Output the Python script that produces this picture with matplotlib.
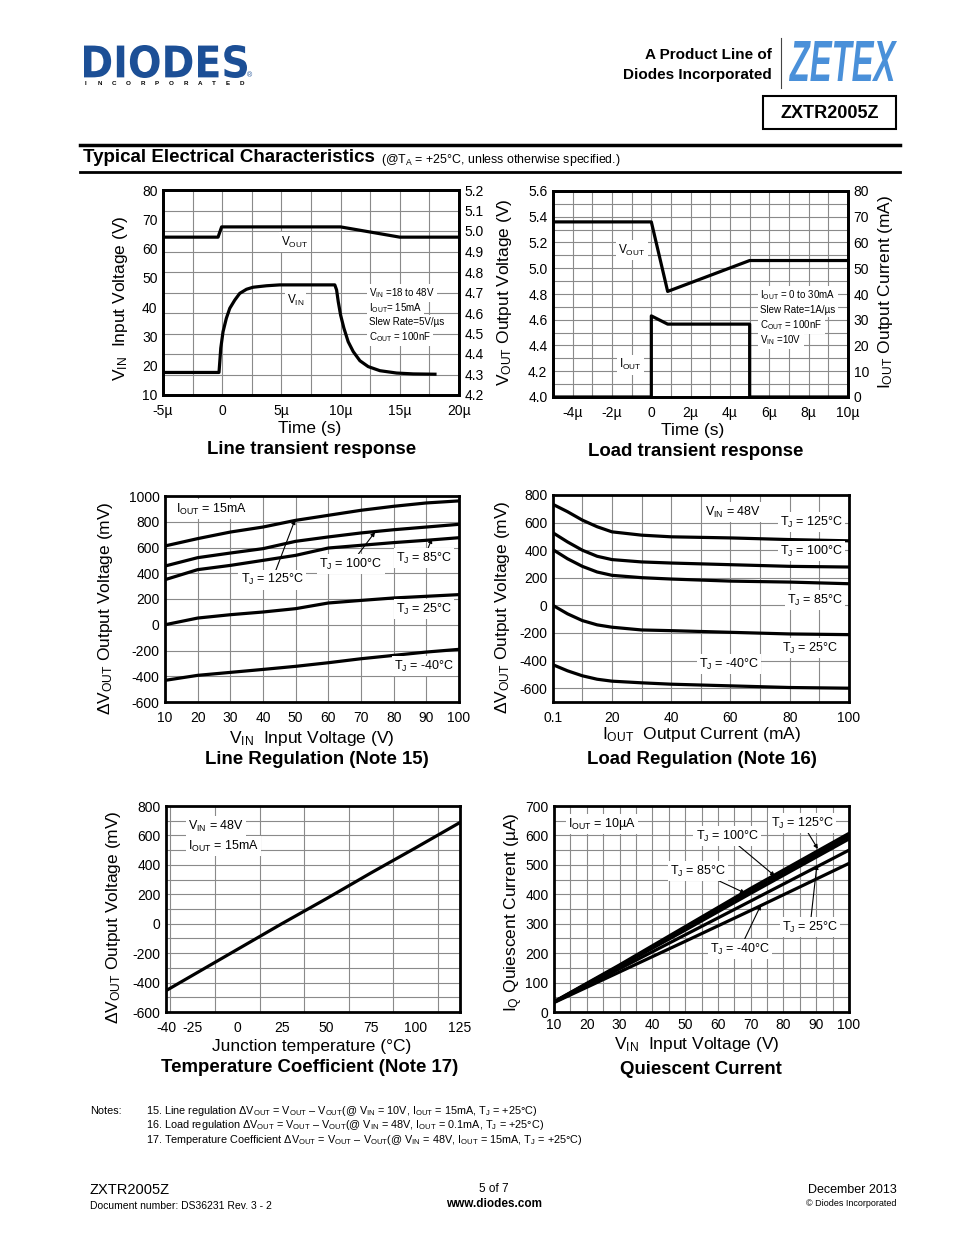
import numpy as np
import matplotlib
matplotlib.use('Agg')
import matplotlib.pyplot as plt
from matplotlib.textpath import TextPath
from matplotlib.patches import PathPatch, Rectangle
from matplotlib.font_manager import FontProperties
from matplotlib.transforms import Affine2D

plt.rcParams['font.family'] = ['Liberation Sans', 'DejaVu Sans']
plt.rcParams['mathtext.fontset'] = 'custom'
plt.rcParams['mathtext.rm'] = 'Liberation Sans'
plt.rcParams['mathtext.it'] = 'Liberation Sans'
plt.rcParams['mathtext.bf'] = 'Liberation Sans:bold'
plt.rcParams['axes.unicode_minus'] = False

NARROW = ['Liberation Sans Narrow', 'Liberation Sans']

# ---- data ----
# line transient (time in us)
lt_t_vin = [-5, -0.27, -0.12, 0.07, 0.35, 0.64, 1.06, 1.48, 2.05, 2.61, 3.74, 4.86, 9.51,
            9.66, 9.80, 10.0, 10.28, 10.64, 11.07, 11.63, 12.33, 13.32, 14.73, 16.14, 17.97]
lt_vin = [17.7, 17.7, 26.0, 31.6, 36.2, 39.6, 42.4, 44.7, 46.1, 46.8, 47.3, 47.6, 47.6,
          45.9, 41.9, 37.3, 32.8, 28.2, 24.8, 21.7, 19.7, 18.3, 17.5, 17.2, 17.1]
lt_t_vout = [-5, -0.35, -0.05, 10.0, 15.0, 20]
lt_vout = [4.97, 4.97, 5.02, 5.02, 4.97, 4.97]

# load transient (time in us)
ld_t_vout = [-5, 0, 0.83, 5.0, 10]
ld_vout = [5.36, 5.36, 4.82, 5.06, 5.06]
ld_t_iout = [-5, 0, 0, 0.83, 5.0, 5.0, 10]
ld_iout = [0, 0, 31.5, 28.3, 28.3, 0, 0]

# line regulation (mV vs VIN)
lr_vin = [10, 20, 30, 40, 50, 60, 70, 80, 90, 100]
lr_125 = [612, 669, 720, 759, 811, 850, 889, 920, 946, 962]
lr_100 = [456, 521, 557, 591, 648, 682, 713, 738, 759, 780]
lr_85 = [350, 428, 461, 500, 539, 596, 617, 638, 656, 676]
lr_25 = [0, 52, 78, 99, 125, 169, 189, 208, 221, 234]
lr_m40 = [-432, -393, -370, -347, -323, -295, -264, -238, -212, -191]

# load regulation (mV vs IOUT mA)
lg_iout = [0.1, 5, 10, 15, 20, 30, 40, 60, 80, 100]
lg_125 = [732, 679, 618, 570, 533, 509, 497, 489, 477, 468]
lg_100 = [526, 460, 400, 356, 332, 315, 307, 295, 283, 278]
lg_85 = [404, 338, 283, 242, 218, 201, 191, 176, 169, 157]
lg_25 = [0, -61, -110, -141, -158, -178, -183, -195, -207, -212]
lg_m40 = [-430, -474, -510, -535, -549, -561, -571, -583, -595, -600]

# temperature coefficient
tc_tj = [-40, 0, 25, 50, 75, 100, 125]
tc_dv = [-455, -175, 0, 170, 345, 515, 688]

# quiescent current (uA vs VIN)
iq_vin = [10, 30, 50, 70, 100]
iq_125 = [35, 160, 290, 420, 607]
iq_100 = [34, 157, 283, 410, 598]
iq_85 = [34, 155, 278, 403, 588]
iq_25 = [33, 147, 262, 377, 550]
iq_m40 = [32, 136, 240, 345, 505]

W, H = 954, 1235
fig = plt.figure(figsize=(9.54, 12.35), dpi=100)
page = fig.add_axes([0, 0, 1, 1])
page.set_xlim(0, W)
page.set_ylim(H, 0)
page.axis('off')


def box(l, t, r, b):
    return fig.add_axes([l / W, 1 - b / H, (r - l) / W, (b - t) / H])


def sub(a, s):
    return a + r'$_{\rm ' + s + '}$'


def style(ax, xpad=6.5):
    for sp in ax.spines.values():
        sp.set_linewidth(2)
        sp.set_zorder(5)
    ax.tick_params(which='both', length=0, labelsize=10, pad=4)
    ax.tick_params(axis='x', which='both', pad=xpad)
    ax.set_axisbelow(True)


def grid(ax, xwhich='both', ywhich='both'):
    ax.xaxis.grid(True, which=xwhich, color='#8a8a8a', lw=0.8)
    ax.yaxis.grid(True, which=ywhich, color='#8a8a8a', lw=0.8)


def logo(s, x0, y0, x1, y1, color, style_='normal', family='DejaVu Sans'):
    tp = TextPath((0, 0), s, prop=FontProperties(family=family, weight='bold', style=style_))
    bb = tp.get_extents()
    tr = Affine2D().translate(-bb.x0, -bb.y0).scale((x1 - x0) / bb.width, -(y1 - y0) / bb.height).translate(x0, y1)
    page.add_patch(PathPatch(tr.transform_path(tp), fc=color, ec='none'))


WB = dict(fc='white', ec='none', pad=1.5)
LW = 2.3

# ---- header ----
logo('DIODES', 84, 45, 247, 78, '#1c4f96')
for i, ch in enumerate('INCORPORATED'):
    page.text(86 + i * 14.2, 83.5, ch, fontsize=4.5, weight='bold', ha='center', va='center')
page.text(250, 76, '®', fontsize=5, color='#1c4f96', ha='center', va='center')
logo('ZETEX', 789, 41, 897, 81, '#4a90d9', style_='italic', family='Liberation Sans')
page.plot([781, 781], [38, 88], color='#444444', lw=0.8)
page.text(772, 55, 'A Product Line of', ha='right', va='center', fontsize=11, weight='bold', family=NARROW)
page.text(772, 75, 'Diodes Incorporated', ha='right', va='center', fontsize=11, weight='bold', family=NARROW)
page.add_patch(Rectangle((763, 96), 133, 33, fc='none', ec='k', lw=1.5))
page.text(829.5, 113, 'ZXTR2005Z', ha='center', va='center', fontsize=13, weight='bold', family=NARROW)
page.plot([80, 900], [145, 145], color='k', lw=2.5)
page.plot([80, 900], [172, 172], color='k', lw=2)
page.text(83, 158, 'Typical Electrical Characteristics', fontsize=13.5, weight='bold', family=NARROW, va='center')
page.text(381, 160, '(@T' + r'$_{\rm A}$' + ' = +25°C, unless otherwise specified.)', fontsize=8.9, family=NARROW, va='center')

# ---- chart 1: line transient ----
ax1 = box(163, 190, 459, 395)
style(ax1)
ax1.plot(lt_t_vin, lt_vin, color='k', lw=LW)
ax1.set_xlim(-5, 20)
ax1.set_ylim(10, 80)
ax1.set_xticks([-5, 0, 5, 10, 15, 20])
ax1.set_xticklabels(['-5µ', '0', '5µ', '10µ', '15µ', '20µ'])
ax1.set_xticks(np.arange(-2.5, 20, 5), minor=True)
ax1.set_yticks(range(10, 81, 10))
ax1.set_yticks(np.arange(17, 80, 7), minor=True)
ax1.xaxis.grid(True, which='both', color='#8a8a8a', lw=0.8)
ax1.yaxis.grid(True, which='minor', color='#8a8a8a', lw=0.8)
ax1r = ax1.twinx()
style(ax1r)
ax1r.plot(lt_t_vout, lt_vout, color='k', lw=LW)
ax1r.set_ylim(4.2, 5.2)
ax1r.set_yticks(np.round(np.arange(42, 53) / 10, 1))
ax1r.set_yticklabels(['%.1f' % v for v in np.arange(42, 53) / 10])
ax1.text(6.15, 62.2, sub('V', 'OUT'), fontsize=8.5, ha='center', va='center', bbox=WB)
ax1.text(6.2, 42.4, sub('V', 'IN'), fontsize=8.5, ha='center', va='center', bbox=WB)
for k, s in enumerate([sub('V', 'IN') + ' =18 to 48V', sub('I', 'OUT') + '= 15mA',
                       'Slew Rate=5V/µs', sub('C', 'OUT') + ' = 100nF']):
    ax1.text(12.4, 44.8 - 5.0 * k, s, fontsize=7, ha='left', va='center', bbox=WB)

# ---- chart 2: load transient ----
ax2 = box(553, 191, 848, 397)
style(ax2)
ax2.plot(ld_t_vout, ld_vout, color='k', lw=LW)
ax2.set_xlim(-5, 10)
ax2.set_ylim(4.0, 5.6)
ax2.set_xticks(range(-4, 11, 2))
ax2.set_xticklabels(['-4µ', '-2µ', '0', '2µ', '4µ', '6µ', '8µ', '10µ'])
ax2.set_xticks(range(-5, 10, 1), minor=True)
ax2.set_yticks(np.round(np.arange(20, 29) / 5, 1))
ax2.set_yticklabels(['%.1f' % v for v in np.arange(20, 29) / 5])
ax2.set_yticks(np.round(np.arange(40, 57) / 10, 1), minor=True)
grid(ax2)
ax2r = ax2.twinx()
style(ax2r)
ax2r.plot(ld_t_iout, ld_iout, color='k', lw=LW)
ax2r.set_ylim(0, 80)
ax2r.set_yticks(range(0, 81, 10))
ax2.text(-0.98, 5.142, sub('V', 'OUT'), fontsize=8.5, ha='center', va='center', bbox=WB)
ax2.text(-1.08, 4.249, sub('I', 'OUT'), fontsize=8.5, ha='center', va='center', bbox=WB)
for k, s in enumerate([sub('I', 'OUT') + ' = 0 to 30mA', 'Slew Rate=1A/µs',
                       sub('C', 'OUT') + ' = 100nF', sub('V', 'IN') + ' =10V']):
    ax2.text(5.55, 4.792 - 0.116 * k, s, fontsize=7, ha='left', va='center', bbox=WB)

# ---- chart 3: line regulation ----
ax3 = box(165, 496, 459, 702)
style(ax3)
for ys in (lr_125, lr_100, lr_85, lr_25, lr_m40):
    ax3.plot(lr_vin, ys, color='k', lw=LW)
ax3.set_xlim(10, 100)
ax3.set_ylim(-600, 1000)
ax3.set_xticks(range(10, 101, 10))
ax3.set_yticks(range(-600, 1001, 200))
grid(ax3, 'major', 'major')
ax3.text(13.4, 899, sub('I', 'OUT') + ' = 15mA', fontsize=9, ha='left', va='center', bbox=WB)
AP = dict(arrowstyle='-|>', color='k', lw=0.8, mutation_scale=6, shrinkA=0, shrinkB=0)
ax3.annotate(sub('T', 'J') + ' = 125°C', xy=(49.8, 815), xytext=(42.8, 348), fontsize=9,
             ha='center', va='center', bbox=WB, arrowprops=AP)
ax3.annotate(sub('T', 'J') + ' = 100°C', xy=(74.3, 720), xytext=(66.9, 472), fontsize=9,
             ha='center', va='center', bbox=WB, arrowprops=AP)
ax3.annotate(sub('T', 'J') + ' = 85°C', xy=(91.7, 668), xytext=(89.3, 518), fontsize=9,
             ha='center', va='center', bbox=WB, arrowprops=AP)
ax3.text(89.3, 122, sub('T', 'J') + ' = 25°C', fontsize=9, ha='center', va='center', bbox=WB)
ax3.text(89.3, -320, sub('T', 'J') + ' = -40°C', fontsize=9, ha='center', va='center', bbox=WB)

# ---- chart 4: load regulation ----
ax4 = box(553, 495, 849, 702)
style(ax4)
for ys in (lg_125, lg_100, lg_85, lg_25, lg_m40):
    ax4.plot(lg_iout, ys, color='k', lw=LW)
ax4.set_xlim(0.1, 100)
ax4.set_ylim(-700, 800)
ax4.set_xticks([0.1, 20, 40, 60, 80, 100])
ax4.set_xticklabels(['0.1', '20', '40', '60', '80', '100'])
ax4.set_xticks(range(10, 100, 20), minor=True)
ax4.set_yticks(range(-600, 801, 200))
grid(ax4, 'both', 'major')
ax4.text(60.8, 677, sub('V', 'IN') + ' = 48V', fontsize=9, ha='center', va='center', bbox=WB)
ax4.text(98, 604, sub('T', 'J') + ' = 125°C', fontsize=9, ha='right', va='center', bbox=WB)
ax4.text(98, 394, sub('T', 'J') + ' = 100°C', fontsize=9, ha='right', va='center', bbox=WB)
ax4.text(98, 39, sub('T', 'J') + ' = 85°C', fontsize=9, ha='right', va='center', bbox=WB)
ax4.text(96.3, -309, sub('T', 'J') + ' = 25°C', fontsize=9, ha='right', va='center', bbox=WB)
ax4.text(59.5, -425, sub('T', 'J') + ' = -40°C', fontsize=9, ha='center', va='center', bbox=WB)

# ---- chart 5: temperature coefficient ----
ax5 = box(166, 806, 460, 1012)
style(ax5)
ax5.plot(tc_tj, tc_dv, color='k', lw=LW)
ax5.set_xlim(-40, 125)
ax5.set_ylim(-600, 800)
ax5.set_xticks([-40, -25, 0, 25, 50, 75, 100, 125])
ax5.set_xticks(np.arange(-37.5, 125, 12.5), minor=True)
ax5.set_yticks(range(-600, 801, 200))
ax5.set_yticks(range(-500, 800, 200), minor=True)
ax5.xaxis.grid(True, which='minor', color='#8a8a8a', lw=0.8)
ax5.yaxis.grid(True, which='both', color='#8a8a8a', lw=0.8)
ax5.text(-27.7, 664, sub('V', 'IN') + ' = 48V', fontsize=9, ha='left', va='center', bbox=WB)
ax5.text(-27.7, 528, sub('I', 'OUT') + ' = 15mA', fontsize=9, ha='left', va='center', bbox=WB)

# ---- chart 6: quiescent current ----
ax6 = box(554, 806, 849, 1012)
style(ax6, xpad=4.5)
for ys in (iq_125, iq_100, iq_85, iq_25, iq_m40):
    ax6.plot(iq_vin, ys, color='k', lw=LW)
ax6.set_xlim(10, 100)
ax6.set_ylim(0, 700)
ax6.set_xticks(range(10, 101, 10))
ax6.set_xticks(range(15, 100, 10), minor=True)
ax6.set_yticks(range(0, 701, 100))
ax6.set_yticks(range(50, 700, 100), minor=True)
grid(ax6)
ax6.text(14.3, 639, sub('I', 'OUT') + ' = 10µA', fontsize=9, ha='left', va='center', bbox=WB)
ax6.annotate(sub('T', 'J') + ' = 125°C', xy=(90.5, 554), xytext=(85.7, 642), fontsize=9,
             ha='center', va='center', bbox=WB, arrowprops=AP)
ax6.annotate(sub('T', 'J') + ' = 100°C', xy=(77.4, 462), xytext=(62.8, 598), fontsize=9,
             ha='center', va='center', bbox=WB, arrowprops=AP)
ax6.annotate(sub('T', 'J') + ' = 85°C', xy=(68.3, 404), xytext=(53.9, 479), fontsize=9,
             ha='center', va='center', bbox=WB, arrowprops=AP)
ax6.annotate(sub('T', 'J') + ' = 25°C', xy=(90.2, 500), xytext=(88.1, 289), fontsize=9,
             ha='center', va='center', bbox=WB, arrowprops=AP)
ax6.annotate(sub('T', 'J') + ' = -40°C', xy=(73.1, 363), xytext=(66.7, 214), fontsize=9,
             ha='center', va='center', bbox=WB, arrowprops=AP)

# ---- axis labels and captions ----
FS = 12.5
page.text(120, 298, sub('V', 'IN') + '  Input Voltage (V)', rotation=90, ha='center', va='center', fontsize=FS)
page.text(504, 292, sub('V', 'OUT') + ' Output Voltage (V)', rotation=90, ha='center', va='center', fontsize=FS)
page.text(886, 292, sub('I', 'OUT') + ' Output Current (mA)', rotation=90, ha='center', va='center', fontsize=FS)
page.text(106, 608, 'Δ' + sub('V', 'OUT') + ' Output Voltage (mV)', rotation=90, ha='center', va='center', fontsize=FS)
page.text(503, 607, 'Δ' + sub('V', 'OUT') + ' Output Voltage (mV)', rotation=90, ha='center', va='center', fontsize=FS)
page.text(114, 917, 'Δ' + sub('V', 'OUT') + ' Output Voltage (mV)', rotation=90, ha='center', va='center', fontsize=FS)
page.text(514, 912, sub('I', 'Q') + ' Quiescent Current (µA)', rotation=90, ha='center', va='center', fontsize=FS)

page.text(310, 428, 'Time (s)', ha='center', va='center', fontsize=FS)
page.text(693, 430, 'Time (s)', ha='center', va='center', fontsize=FS)
page.text(312, 738, sub('V', 'IN') + '  Input Voltage (V)', ha='center', va='center', fontsize=FS)
page.text(702, 735, sub('I', 'OUT') + '  Output Current (mA)', ha='center', va='center', fontsize=FS)
page.text(312, 1046, 'Junction temperature (°C)', ha='center', va='center', fontsize=FS)
page.text(697, 1044, sub('V', 'IN') + '  Input Voltage (V)', ha='center', va='center', fontsize=FS)

TS = dict(ha='center', va='center', fontsize=13.4, weight='bold')
page.text(312, 449, 'Line transient response', **TS)
page.text(696, 451, 'Load transient response', **TS)
page.text(317, 760, 'Line Regulation (Note 15)', **TS)
page.text(702, 760, 'Load Regulation (Note 16)', **TS)
page.text(310, 1068, 'Temperature Coefficient (Note 17)', **TS)
page.text(701, 1069, 'Quiescent Current', **TS)

# ---- notes and footer ----
NS = dict(fontsize=7.8, family=NARROW, va='center')
page.text(90, 1111, 'Notes:', **NS)
notes = [
    '15. Line regulation Δ' + sub('V', 'OUT') + ' = ' + sub('V', 'OUT') + ' – ' + sub('V', 'OUT') +
    '(@ ' + sub('V', 'IN') + ' = 10V, ' + sub('I', 'OUT') + ' = 15mA, ' + sub('T', 'J') + ' = +25°C)',
    '16. Load regulation Δ' + sub('V', 'OUT') + ' = ' + sub('V', 'OUT') + ' – ' + sub('V', 'OUT') +
    '(@ ' + sub('V', 'IN') + ' = 48V, ' + sub('I', 'OUT') + ' = 0.1mA, ' + sub('T', 'J') + ' = +25°C)',
    '17. Temperature Coefficient Δ' + sub('V', 'OUT') + ' = ' + sub('V', 'OUT') + ' – ' + sub('V', 'OUT') +
    '(@ ' + sub('V', 'IN') + ' = 48V, ' + sub('I', 'OUT') + ' = 15mA, ' + sub('T', 'J') + ' = +25°C)',
]
for k, s in enumerate(notes):
    page.text(146, 1111 + 14.5 * k, s, **NS)

page.text(90, 1190, 'ZXTR2005Z', fontsize=10.5, family=NARROW, va='center')
page.text(90, 1206, 'Document number: DS36231 Rev. 3 - 2', fontsize=7.5, family=NARROW, va='center')
page.text(494, 1189, '5 of 7', fontsize=8.5, family=NARROW, ha='center', va='center')
page.text(494, 1204, 'www.diodes.com', fontsize=8.5, weight='bold', family=NARROW, ha='center', va='center')
page.text(897, 1190, 'December 2013', fontsize=9, family=NARROW, ha='right', va='center')
page.text(897, 1204, '© Diodes Incorporated', fontsize=6.5, family=NARROW, ha='right', va='center')

fig.savefig('out.png', dpi=100)
